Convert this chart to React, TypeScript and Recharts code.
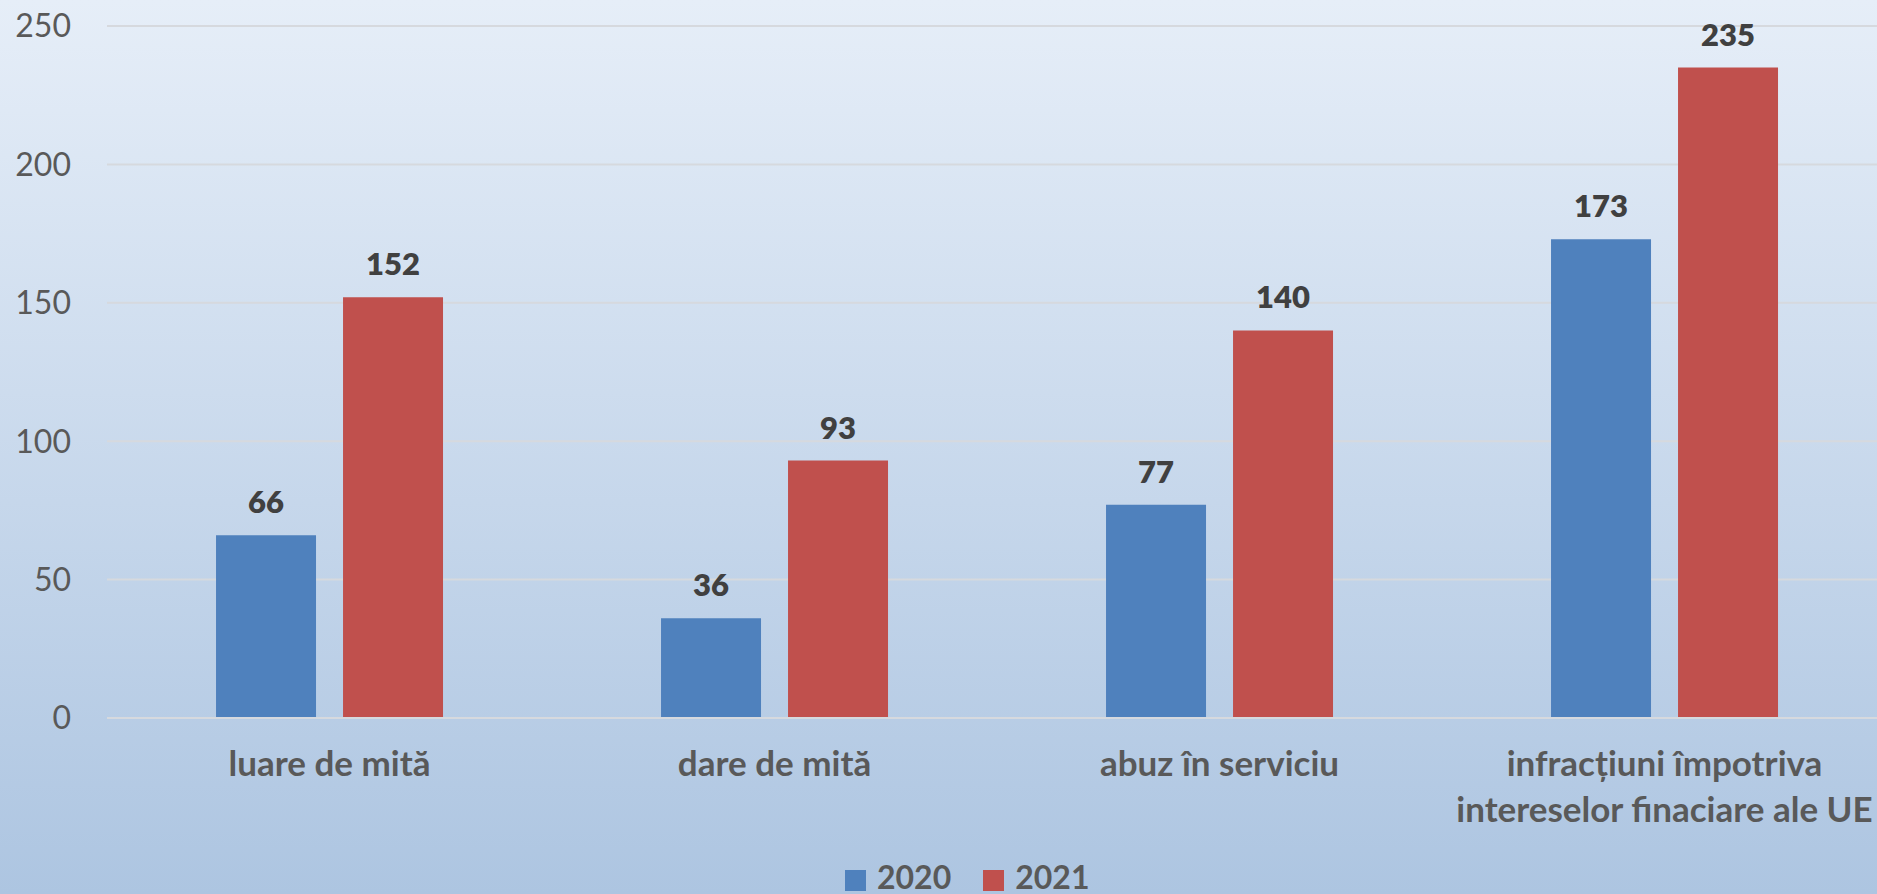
import React from "react";
import { BarChart, Bar, XAxis, YAxis, CartesianGrid, LabelList } from "recharts";

const categories = [
  "luare de mită",
  "dare de mită",
  "abuz în serviciu",
  "infracțiuni împotriva\nintereselor finaciare ale UE",
];
const values2020 = [66, 36, 77, 173];
const values2021 = [152, 93, 140, 235];
const seriesNames = ["2020", "2021"];
const seriesColors = ["#4f81bd", "#c0504d"];
const yTicks = [0, 50, 100, 150, 200, 250];

const data = categories.map((c, i) => ({
  name: c,
  v2020: values2020[i],
  v2021: values2021[i],
}));

const FONT = "Lato, 'Noto Sans', sans-serif";

const XTick = (props: any) => {
  const { x, y, payload } = props;
  const lines = String(payload.value).split("\n");
  return (
    <g transform={`translate(${x},${y})`}>
      {lines.map((l: string, i: number) => (
        <text
          key={i}
          x={0}
          y={50 + i * 46}
          textAnchor="middle"
          fill="#595959"
          fontFamily={FONT}
          fontWeight={700}
          fontSize={35}
        >
          {l}
        </text>
      ))}
    </g>
  );
};

export default function App() {
  return (
    <div
      style={{
        position: "absolute",
        left: 0,
        top: 0,
        width: 1877,
        height: 894,
        overflow: "hidden",
        background: "linear-gradient(to bottom, #e6eef8 0%, #adc5e1 100%)",
      }}
    >
      <BarChart
        width={1890}
        height={894}
        data={data}
        margin={{ top: 26, right: 3, bottom: 76, left: 0 }}
        barCategoryGap="24.5%"
        barGap={27}
      >
        <CartesianGrid vertical={false} stroke="#d6d9de" strokeWidth={2} />
        <XAxis
          dataKey="name"
          axisLine={{ stroke: "#d6d9de", strokeWidth: 2 }}
          tickLine={false}
          height={100}
          tick={<XTick />}
          interval={0}
        />
        <YAxis
          domain={[0, 250]}
          ticks={yTicks}
          width={107}
          axisLine={false}
          tickLine={false}
          tickSize={6}
          tickMargin={30}
          tick={{ fill: "#595959", fontSize: 32, fontFamily: FONT }}
        />
        <Bar dataKey="v2020" name={seriesNames[0]} fill={seriesColors[0]} isAnimationActive={false}>
          <LabelList
            dataKey="v2020"
            position="top"
            offset={22}
            fill="#404040"
            fontSize={31}
            fontWeight={800}
            fontFamily={FONT}
          />
        </Bar>
        <Bar dataKey="v2021" name={seriesNames[1]} fill={seriesColors[1]} isAnimationActive={false}>
          <LabelList
            dataKey="v2021"
            position="top"
            offset={22}
            fill="#404040"
            fontSize={31}
            fontWeight={800}
            fontFamily={FONT}
          />
        </Bar>
      </BarChart>
      <div
        style={{
          position: "absolute",
          left: 845,
          top: 861,
          display: "flex",
          alignItems: "center",
          fontFamily: FONT,
          fontWeight: 700,
          fontSize: 32,
          color: "#595959",
          whiteSpace: "nowrap",
        }}
      >
        {seriesNames.map((n, i) => (
          <div key={n} style={{ display: "flex", alignItems: "center", marginRight: 32 }}>
            <div
              style={{
                width: 21,
                height: 21,
                background: seriesColors[i],
                marginRight: 11,
                position: "relative",
                top: 3,
              }}
            />
            <span style={{ lineHeight: "32px" }}>{n}</span>
          </div>
        ))}
      </div>
    </div>
  );
}
